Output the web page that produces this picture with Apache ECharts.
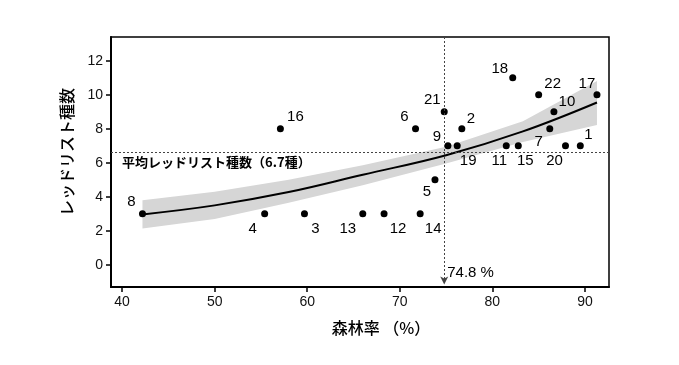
<!DOCTYPE html>
<html><head><meta charset="utf-8">
<script src="https://cdn.jsdelivr.net/npm/echarts@6/dist/echarts.min.js"></script>
<style>html,body{margin:0;padding:0;background:#fff}#c{width:679px;height:365px}</style>
</head><body><div id="c"></div>
<script>
// --- data ---
const ids      = [1,2,3,4,5,6,7,8,9,10,11,12,13,14,15,16,17,18,19,20,21,22];
const forest   = [89.5,76.7,59.7,55.4,73.8,71.7,86.2,42.2,75.2,86.65,81.5,68.3,66.0,72.2,82.8,57.1,91.3,82.2,76.2,87.9,74.8,85.0];
const redList  = [7,8,3,3,5,8,8,3,7,9,7,3,3,3,7,8,10,11,7,7,9,10];
const fitX     = [42.2,50,58,66,75,83.3,91.3];
const fitY     = [2.97,3.5,4.28,5.3,6.45,7.85,9.55];
const bandLow  = [2.14,2.7,3.65,4.69,5.96,7.22,8.22];
const bandHigh = [3.8,4.3,5.0,5.86,6.94,8.45,10.82];
const meanRed  = 6.65;
const meanForest = 74.8;
const xTicks = [40,50,60,70,80,90];
const yTicks = [0,2,4,6,8,10,12];
const meanText = '平均レッドリスト種数（6.7種）';
const forestText = '74.8 %';
const xTitle = '森林率 （%）';
const yTitle = 'レッドリスト種数';

// label placement (offsets in px from point)
const labelOffsets = {
  1:[8,-11],2:[9,-10],3:[11,15],4:[-12,15],5:[-8,12],6:[-11,-12],7:[-11,13],8:[-11,-12],
  9:[-11,-9],10:[13,-10],11:[-7,15],12:[14,15],13:[-15,15],14:[13,15],15:[7,15],16:[15,-12],
  17:[-10,-11],18:[-13,-9],19:[11,15],20:[-11,15],21:[-12,-12],22:[14,-11]
};

const chart = echarts.init(document.getElementById('c'));
const FONT = '"Liberation Sans", Arial, sans-serif';
const JP = '"Noto Sans CJK JP", sans-serif';

const points = ids.map((id,i)=>({
  value:[forest[i], redList[i]],
  label:{offset: labelOffsets[id]}
}));

chart.setOption({
  animation:false,
  backgroundColor:'#fff',
  grid:{left:111,right:70,top:37,bottom:78,show:true,borderColor:'#000',borderWidth:1.5,backgroundColor:'transparent'},
  xAxis:{type:'value',min:38.8,max:92.6,
    axisLine:{show:true,onZero:false,lineStyle:{color:'#000',width:2}},
    axisTick:{show:true,length:5,customValues:xTicks,lineStyle:{color:'#000',width:1.5}},
    axisLabel:{customValues:xTicks,color:'#111',fontSize:14,fontFamily:FONT,margin:8},
    splitLine:{show:false}},
  yAxis:{type:'value',min:-1.3,max:13.4,
    axisLine:{show:true,onZero:false,lineStyle:{color:'#000',width:2}},
    axisTick:{show:true,length:5,customValues:yTicks,lineStyle:{color:'#000',width:1.5}},
    axisLabel:{customValues:yTicks,color:'#111',fontSize:14,fontFamily:FONT,margin:8},
    splitLine:{show:false}},
  graphic:[
    {type:'text',x:67,y:152,rotation:Math.PI/2,style:{text:yTitle,fontSize:16,fontWeight:500,fontFamily:JP,fill:'#000',align:'center',verticalAlign:'middle'}},
    {type:'text',x:381,y:328,style:{text:xTitle,fontSize:16,fontWeight:500,fontFamily:JP,fill:'#000',align:'center',verticalAlign:'middle'}}
  ],
  series:[
    {type:'custom',z:1,silent:true,clip:true,data:[0],
      renderItem:function(params,api){
        const pts=[];
        for(let i=0;i<fitX.length;i++) pts.push(api.coord([fitX[i],bandHigh[i]]));
        for(let i=fitX.length-1;i>=0;i--) pts.push(api.coord([fitX[i],bandLow[i]]));
        return {type:'polygon',shape:{points:pts},style:{fill:'#d6d6d6'}};
      }},
    {type:'line',z:2,data:fitX.map((x,i)=>[x,fitY[i]]),smooth:0.4,showSymbol:false,
      lineStyle:{color:'#000',width:2},silent:true,
      markLine:{silent:true,symbol:['none','none'],label:{show:false},
        lineStyle:{color:'#444',type:[2,2],width:1},
        data:[
          [{coord:[38.8,meanRed]},{coord:[92.6,meanRed]}]
        ]}},
    {type:'line',z:2,data:[],
      markLine:{silent:true,symbol:['none','arrow'],symbolSize:[6,8],label:{show:false},
        lineStyle:{color:'#444',type:[2,2],width:1},
        data:[[{coord:[meanForest,13.4]},{coord:[meanForest,-1.15]}]]}},
    {type:'scatter',z:3,symbolSize:7,itemStyle:{color:'#000',opacity:1},data:points,
      label:{show:true,position:'inside',align:'center',verticalAlign:'middle',textBorderWidth:0,
        formatter:(p)=>String(ids[p.dataIndex]),color:'#000',fontSize:15,fontFamily:FONT}},
    {type:'scatter',z:3,symbolSize:0,itemStyle:{opacity:1},data:[[40.0,6.04]],silent:true,
      label:{show:true,position:'right',distance:0,formatter:meanText,fontSize:13,fontWeight:'bold',fontFamily:JP,color:'#000'}},
    {type:'scatter',z:3,symbolSize:0,itemStyle:{opacity:1},data:[[meanForest,-0.45]],silent:true,
      label:{show:true,position:'right',distance:3,formatter:forestText,fontSize:15,fontFamily:FONT,color:'#000'}}
  ]
});
</script>
</body></html>
